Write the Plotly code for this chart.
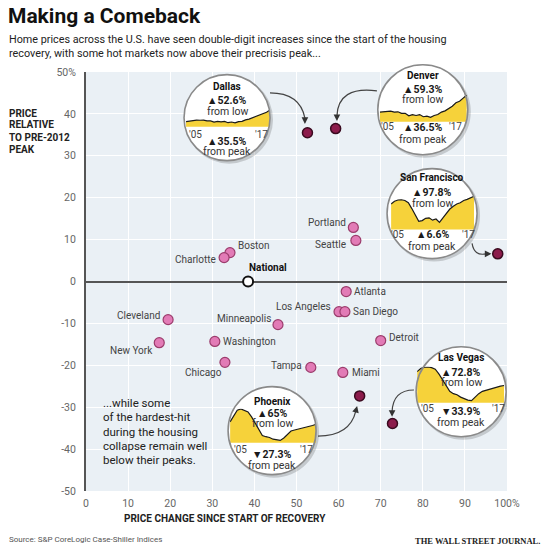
import plotly.graph_objects as go

# ---------------- data ----------------
cities = ["Boston", "Charlotte", "Portland", "Seattle", "Atlanta", "Los Angeles",
          "San Diego", "Cleveland", "Minneapolis", "New York", "Washington",
          "Detroit", "Chicago", "Tampa", "Miami"]
change_since_recovery = [34.2, 32.8, 63.5, 64.1, 61.8, 60.1, 61.5, 19.5, 45.6,
                         17.4, 30.6, 70.0, 33.0, 53.4, 61.0]
relative_to_peak = [6.9, 5.7, 12.9, 9.8, -2.4, -7.2, -7.2, -9.1, -10.3,
                    -14.6, -14.3, -14.1, -19.3, -20.5, -21.7]

national_name = ["National"]
national_change = [38.5]
national_relative = [0.0]

featured = ["Dallas", "Denver", "San Francisco", "Phoenix", "Las Vegas"]
featured_change = [52.6, 59.3, 97.8, 65.0, 72.8]
featured_relative = [35.5, 36.5, 6.6, -27.3, -33.9]

spark_years = [2005.0, 2005.5, 2006.0, 2006.5, 2007.0, 2007.5, 2008.0, 2008.5,
               2009.0, 2009.5, 2010.0, 2010.5, 2011.0, 2011.5, 2012.0, 2012.5,
               2013.0, 2013.5, 2014.0, 2014.5, 2015.0, 2015.5, 2016.0, 2016.5,
               2017.0]
spark_dallas = [118, 121, 123, 125, 124, 125, 121, 121, 116, 119, 117, 119, 113,
                116, 112, 118, 119, 126, 129, 135, 139, 147, 151, 160, 171]
spark_denver = [138, 139, 140, 141, 138, 139, 134, 134, 126, 130, 127, 130, 123,
                125, 121, 127, 130, 138, 142, 150, 157, 168, 173, 183, 193]
spark_sf = [200, 212, 217, 218, 215, 205, 180, 150, 125, 128, 138, 140, 130,
            135, 120, 140, 158, 178, 190, 200, 205, 215, 220, 226, 233]
spark_phoenix = [175, 200, 222, 227, 222, 215, 195, 170, 140, 120, 115, 112,
                 105, 102, 100, 110, 125, 138, 142, 145, 148, 153, 157, 160, 165]
spark_lasvegas = [215, 228, 234, 235, 232, 225, 205, 180, 150, 130, 120, 115,
                  105, 98, 92, 90, 105, 120, 130, 135, 140, 145, 148, 152, 155]
spark_series = [spark_dallas, spark_denver, spark_sf, spark_phoenix, spark_lasvegas]

x_ticks = [0, 10, 20, 30, 40, 50, 60, 70, 80, 90, 100]
x_tick_labels = ["0", "10", "20", "30", "40", "50", "60", "70", "80", "90", "100%"]
y_ticks = [-50, -40, -30, -20, -10, 0, 10, 20, 30, 40, 50]
y_tick_labels = ["-50", "-40", "-30", "-20", "-10", "0", "10", "20", "30", "40", "50%"]

# ---------------- styling / geometry ----------------
W, H = 550, 551
L, R, T, B = 86, 43, 72, 60
PW, PH = W - L - R, H - T - B
FONT = "Roboto"
PINK = "#e27bb6"
PINK_EDGE = "#9b3c6c"
MAROON = "#8c1b4b"
YELLOW = "#f6d23a"
BG = "#eaf0f5"


def xpx(v):
    return L + v / 100.0 * PW


def ypx(v):
    return T + (50 - v) / 100.0 * PH


def paper_x(p):
    return (p - L) / PW


def paper_y(p):
    return (H - B - p) / PH


# label offsets (xanchor, xshift px, yshift px)
label_style = {
    "Boston": ("left", 6, 7), "Charlotte": ("right", -6, -2),
    "Portland": ("right", -5, 5), "Seattle": ("right", -8, -4),
    "Atlanta": ("left", 6, 0), "Los Angeles": ("right", -6, 5),
    "San Diego": ("left", 6, 0), "Cleveland": ("right", -6, 4),
    "Minneapolis": ("right", -5, 6), "New York": ("right", -4, -8),
    "Washington": ("left", 6, 0), "Detroit": ("left", 6, 3),
    "Chicago": ("right", -1, -10), "Tampa": ("right", -7, 2),
    "Miami": ("left", 7, 0),
}

# inset placement: centre (data units), radius px, chart box (px offsets), text offsets
insets = [
    dict(c=(33.5, 39.1), r=43, chart=(-41, 43, -8, 9), yr=(95, 172),
         name=-31, pct1=-17, low=-6, yrs=17, yx=(-32, 34), pct2=24, peak=34),
    dict(c=(80.0, 41.0), r=45, chart=(-43, 44, -15, 12), yr=(107, 194),
         name=-34, pct1=-20, low=-10, yrs=17, yx=(-35, 33), pct2=18, peak=30),
    dict(c=(82.2, 16.2), r=45, chart=(-41, 42, -18, 16), yr=(89, 236),
         name=-36, pct1=-21, low=-10, yrs=21, yx=(-35, 36), pct2=21, peak=33),
    dict(c=(44.2, -35.6), r=44, chart=(-42, 44, -22, 12), yr=(91, 228),
         name=-29, pct1=-17, low=-7, yrs=19, yx=(-32, 34), pct2=24, peak=35),
    dict(c=(89.1, -26.3), r=45, chart=(-44, 43, -25, 11), yr=(81, 236),
         name=-34, pct1=-19, low=-9, yrs=17, yx=(-34, 37), pct2=20, peak=31),
]

# arrows: start, control, end, tip (data units)
arrows = [
    ((43.7, 45.0), (50.8, 45.0), (52.0, 39.0), (52.0, 37.6)),
    ((69.1, 45.5), (59.9, 46.7), (59.6, 39.5), (59.6, 38.3)),
    ((91.7, 9.1), (92.2, 6.0), (95.0, 6.6), (96.3, 6.6)),
    ((55.1, -36.9), (62.7, -36.9), (64.1, -30.9), (64.4, -29.7)),
    ((77.9, -25.9), (72.9, -25.9), (72.7, -31.1), (72.7, -32.3)),
]

fig = go.Figure()

# main markers
fig.add_trace(go.Scatter(
    x=change_since_recovery, y=relative_to_peak, mode="markers",
    marker=dict(size=10, color=PINK, line=dict(color=PINK_EDGE, width=1.2)),
    hoverinfo="skip", showlegend=False))
fig.add_trace(go.Scatter(
    x=featured_change, y=featured_relative, mode="markers",
    marker=dict(size=10, color=MAROON, line=dict(color="#3a0a1f", width=1.5)),
    hoverinfo="skip", showlegend=False))
fig.add_trace(go.Scatter(
    x=national_change, y=national_relative, mode="markers",
    marker=dict(size=10, color="white", line=dict(color="#111", width=2)),
    hoverinfo="skip", showlegend=False))

shapes = [dict(type="rect", xref="paper", yref="paper", x0=0, x1=1, y0=0, y1=1,
               fillcolor=BG, line=dict(width=0), layer="below")]
annotations = []
layout_axes = {}

for i, (ins, series, name, up, rel) in enumerate(
        zip(insets, spark_series, featured, featured_change, featured_relative)):
    cx, cy = ins["c"]
    r = ins["r"]
    cpx, cpy = xpx(cx), ypx(cy)
    # shadow + white disc (between gridlines and traces)
    shapes.append(dict(type="circle", xref="x", yref="y", xsizemode="pixel",
                       ysizemode="pixel", xanchor=cx, yanchor=cy,
                       x0=-r + 1, x1=r + 3, y0=-r - 3, y1=r - 1,
                       fillcolor="rgba(0,0,0,0.16)", line=dict(width=0),
                       layer="between"))
    shapes.append(dict(type="circle", xref="x", yref="y", xsizemode="pixel",
                       ysizemode="pixel", xanchor=cx, yanchor=cy,
                       x0=-r, x1=r, y0=-r, y1=r, fillcolor="white",
                       line=dict(width=0), layer="between"))
    # outline on top (paper ref so it is not clipped)
    shapes.append(dict(type="circle", xref="paper", yref="paper", xsizemode="pixel",
                       ysizemode="pixel", xanchor=paper_x(cpx), yanchor=paper_y(cpy),
                       x0=-r, x1=r, y0=-r, y1=r, fillcolor="rgba(0,0,0,0)",
                       line=dict(color="#8a8a8a", width=1.6), layer="above"))
    # mini chart axes
    x0, x1, ytop, ybot = ins["chart"]
    k = i + 2
    layout_axes[f"xaxis{k}"] = dict(
        domain=[paper_x(cpx + x0), paper_x(cpx + x1)], range=[2005, 2017],
        visible=False, anchor=f"y{k}", fixedrange=True)
    layout_axes[f"yaxis{k}"] = dict(
        domain=[paper_y(cpy + ybot), paper_y(cpy + ytop)], range=list(ins["yr"]),
        visible=False, anchor=f"x{k}", fixedrange=True)
    fig.add_trace(go.Scatter(
        x=spark_years, y=series, xaxis=f"x{k}", yaxis=f"y{k}", mode="lines",
        line=dict(color="#1a1a1a", width=1.2), fill="tozeroy", fillcolor=YELLOW,
        hoverinfo="skip", showlegend=False))

    def tx(text, dx, dy, size=10, bold=False, color="#222"):
        annotations.append(dict(
            text=f"<b>{text}</b>" if bold else text, x=cx, y=cy, xref="x", yref="y",
            xshift=dx, yshift=-dy, showarrow=False, xanchor="center", yanchor="middle",
            borderpad=0, font=dict(family=FONT, size=size, color=color)))

    tx(name, 0, ins["name"], size=10, bold=True, color="#111")
    tx(f"▲{up:g}%", 0, ins["pct1"], size=10.5, bold=True, color="#1a1a1a")
    tx("from low", 0, ins["low"], size=10.5, color="#333")
    tx("'05", ins["yx"][0], ins["yrs"], size=10, color="#444")
    tx("'17", ins["yx"][1], ins["yrs"], size=10, color="#444")
    sym = "▲" if rel >= 0 else "▼"
    tx(f"{sym}{abs(rel):g}%", 0, ins["pct2"], size=10.5, bold=True, color="#1a1a1a")
    tx("from peak", 0, ins["peak"], size=10.5, color="#333")

# curved arrows
for (s, c, e, tip) in arrows:
    shapes.append(dict(type="path", xref="x", yref="y",
                       path=f"M {s[0]},{s[1]} Q {c[0]},{c[1]} {e[0]},{e[1]}",
                       line=dict(color="#444", width=1.2), layer="above"))
    annotations.append(dict(x=tip[0], y=tip[1], ax=e[0], ay=e[1], axref="x", ayref="y",
                            xref="x", yref="y", text="", showarrow=True, arrowhead=2,
                            arrowsize=1.1, arrowwidth=1.2, arrowcolor="#333"))

# city labels
for name, xv, yv in zip(cities, change_since_recovery, relative_to_peak):
    anc, dx, dy = label_style[name]
    annotations.append(dict(text=name, x=xv, y=yv, xref="x", yref="y",
                            xanchor=anc, yanchor="middle", xshift=dx, yshift=dy,
                            showarrow=False, font=dict(family=FONT, size=10, color="#444")))
annotations.append(dict(text=f"<b>{national_name[0]}</b>", x=national_change[0],
                        y=national_relative[0], xref="x", yref="y", xanchor="left",
                        yanchor="middle", xshift=-1, yshift=14, showarrow=False,
                        font=dict(family=FONT, size=10, color="#111")))


def text_px(text, px, py, size, color="#222", anchor="left", family=FONT):
    annotations.append(dict(text=text, x=paper_x(px), y=paper_y(py), xref="paper",
                            yref="paper", xanchor=anchor, yanchor="middle",
                            showarrow=False, font=dict(family=family, size=size, color=color)))


text_px("<b>Making a Comeback</b>", 6, 16, 21, color="#111")
text_px("Home prices across the U.S. have seen double-digit increases since the start of the housing",
        7, 39, 10.8, color="#222")
text_px("recovery, with some hot markets now above their precrisis peak...", 7, 53, 10.8,
        color="#222")
for txt, yy in zip(["PRICE", "RELATIVE", "TO PRE-2012", "PEAK"], [113, 125, 137, 149]):
    text_px(f"<b>{txt}</b>", 7, yy, 10, color="#222")
for txt, yy in zip(["...while some", "of the hardest-hit", "during the housing",
                    "collapse remain well", "below their peaks."],
                   [403, 417, 432, 446, 460]):
    text_px(txt, 101, yy, 11.5, color="#222")
text_px("<b>PRICE CHANGE SINCE START OF RECOVERY</b>", 225, 518, 10, color="#222",
        anchor="center")
text_px("Source: S&P CoreLogic Case-Shiller Indices", 7, 539, 8, color="#555")
text_px("<b>THE WALL STREET JOURNAL.</b>", 542, 541, 8.5, color="#222", anchor="right",
        family="Liberation Serif")

fig.update_layout(
    width=W, height=H, margin=dict(l=L, r=R, t=T, b=B, pad=0),
    paper_bgcolor="white", plot_bgcolor="rgba(0,0,0,0)",
    showlegend=False, hovermode=False,
    font=dict(family=FONT, size=11, color="#555"),
    xaxis=dict(domain=[0, 1], range=[0, 100], tickvals=x_ticks, ticktext=x_tick_labels,
               showgrid=True, gridcolor="white", gridwidth=1, zeroline=False,
               showline=False, ticks="", ticklabelstandoff=4,
               tickfont=dict(size=10.5, color="#666"), fixedrange=True, anchor="y"),
    yaxis=dict(domain=[0, 1], range=[-50, 50], tickvals=y_ticks, ticktext=y_tick_labels,
               showgrid=True, gridcolor="white", gridwidth=1, zeroline=True,
               zerolinecolor="#555", zerolinewidth=1.5, showline=True,
               linecolor="#555", linewidth=2, ticks="", ticklabelstandoff=6,
               tickfont=dict(size=10.5, color="#666"), fixedrange=True, anchor="x"),
    shapes=shapes, annotations=annotations,
    **layout_axes,
)

fig.write_html("out.html", config={"displayModeBar": False},
               post_script="document.body.style.margin='0px';document.body.style.overflow='hidden';")
